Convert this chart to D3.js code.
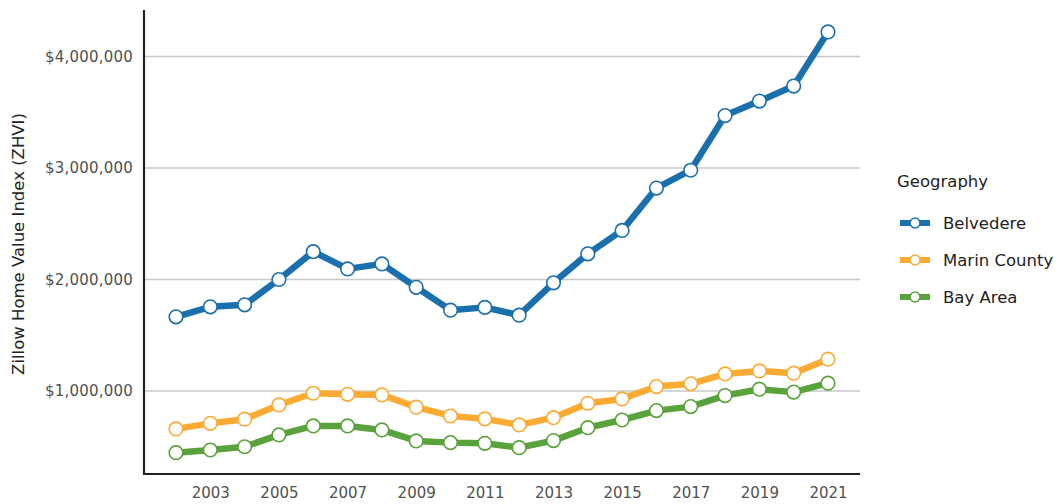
<!DOCTYPE html>
<html><head><meta charset="utf-8">
<script src="https://cdn.jsdelivr.net/npm/d3@7"></script>
<style>body{margin:0;background:#fff}svg{display:block}text{font-family:"DejaVu Sans",sans-serif}</style>
</head><body><svg id="c" width="1059" height="504"></svg>
<script>
const years = [2002,2003,2004,2005,2006,2007,2008,2009,2010,2011,2012,2013,2014,2015,2016,2017,2018,2019,2020,2021];
const belvedere = [1665000,1755000,1773000,2000000,2250000,2095000,2140000,1930000,1725000,1750000,1680000,1970000,2230000,2440000,2820000,2980000,3470000,3600000,3735000,4220000];
const marin = [660000,710000,747000,875000,980000,970000,965000,855000,776000,750000,696000,761000,890000,929000,1040000,1064000,1153000,1180000,1160000,1285000];
const bayArea = [447000,471000,500000,606000,687000,687000,651000,552000,537000,531000,492000,555000,671000,740000,824000,860000,959000,1016000,990000,1070000];
const seriesNames = ["Belvedere","Marin County","Bay Area"];
const seriesColors = ["#1a6fad","#fbab33","#5aa23b"];
const yTicks = [1000000,2000000,3000000,4000000];
const xTicks = [2003,2005,2007,2009,2011,2013,2015,2017,2019,2021];
const legendTitle = "Geography";
const yTitle = "Zillow Home Value Index (ZHVI)";

(function(){
const svg = d3.select("#c");
const pL = 144, pR = 860, pT = 10, pB = 474;
const x = d3.scaleLinear().domain([2002,2021]).range([176,828]);
const y = d3.scaleLinear().domain([0,1000000]).range([502.5,391]);
const series = [belvedere, marin, bayArea];
const font = "'DejaVu Sans',sans-serif";

svg.append("g").selectAll("line").data(yTicks).join("line")
  .attr("x1",pL).attr("x2",pR).attr("y1",d=>y(d)).attr("y2",d=>y(d))
  .attr("stroke","#c8c8c8").attr("stroke-width",1.3);

const yAxis = d3.axisLeft(y).tickValues(yTicks).tickSize(0).tickPadding(11)
  .tickFormat(d=>"$"+d3.format(",")(d));
const gy = svg.append("g").attr("transform",`translate(${pL},0)`).call(yAxis);
gy.select(".domain").remove();
gy.selectAll("text").attr("font-size",15).attr("fill","#505050").attr("font-family",font).attr("letter-spacing",0.2);

const xAxis = d3.axisBottom(x).tickValues(xTicks).tickSize(0).tickPadding(13).tickFormat(d3.format("d"));
const gx = svg.append("g").attr("transform",`translate(0,${pB})`).call(xAxis);
gx.select(".domain").remove();
gx.selectAll("text").attr("font-size",15).attr("fill","#505050").attr("font-family",font);

svg.append("line").attr("x1",pL).attr("x2",pL).attr("y1",pT).attr("y2",pB+1).attr("stroke","#222").attr("stroke-width",2.2);
svg.append("line").attr("x1",pL).attr("x2",pR).attr("y1",pB).attr("y2",pB).attr("stroke","#222").attr("stroke-width",2.2);

svg.append("text").attr("transform",`translate(24,244) rotate(-90)`)
  .attr("text-anchor","middle").attr("font-size",16.5).attr("fill","#222").text(yTitle);

const line = d3.line().x((d,i)=>x(years[i])).y(d=>y(d));
series.forEach((s,k)=>{
  const g = svg.append("g");
  g.append("path").datum(s).attr("d",line).attr("fill","none")
    .attr("stroke",seriesColors[k]).attr("stroke-width",6.5).attr("stroke-linejoin","round");
  g.selectAll("circle").data(s).join("circle")
    .attr("cx",(d,i)=>x(years[i])).attr("cy",d=>y(d)).attr("r",6.8)
    .attr("fill","#fff").attr("stroke",seriesColors[k]).attr("stroke-width",1.6);
});

const lg = svg.append("g");
lg.append("text").attr("x",897).attr("y",187).attr("font-size",16.5).attr("fill","#222").text(legendTitle);
seriesNames.forEach((n,k)=>{
  const yy = 223 + k*37;
  lg.append("line").attr("x1",900).attr("x2",930).attr("y1",yy).attr("y2",yy)
    .attr("stroke",seriesColors[k]).attr("stroke-width",6);
  lg.append("circle").attr("cx",915).attr("cy",yy).attr("r",5).attr("fill","#fff")
    .attr("stroke",seriesColors[k]).attr("stroke-width",1.5);
  lg.append("text").attr("x",943).attr("y",yy+6).attr("font-size",16.5).attr("fill","#222").text(n);
});
})();
</script></body></html>
